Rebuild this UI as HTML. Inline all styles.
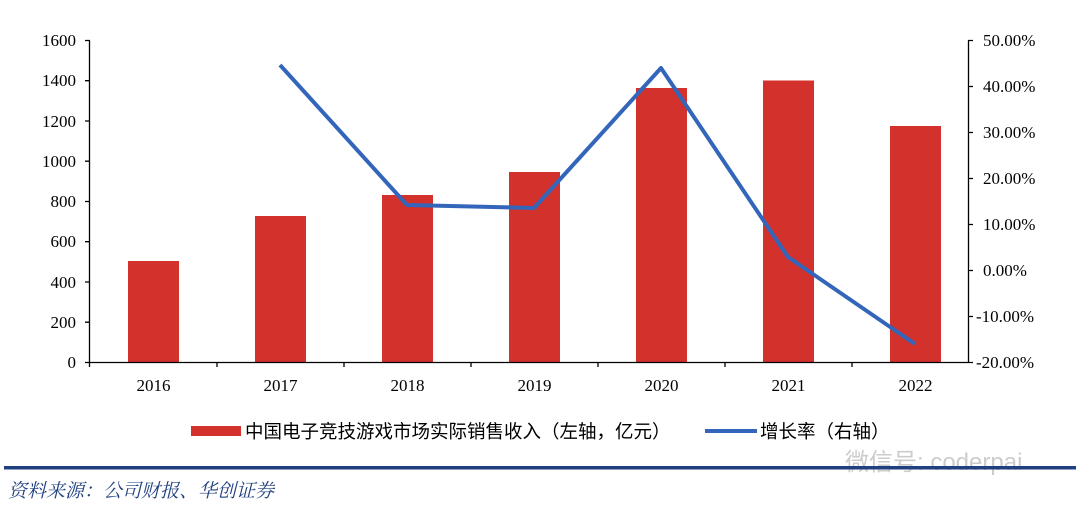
<!DOCTYPE html>
<html><head><meta charset="utf-8"><style>
body{margin:0;background:#fff;width:1080px;height:506px;overflow:hidden}
svg text{font-family:"Liberation Serif","Noto Serif CJK SC",serif;font-size:17px;fill:#000}
.cn{font-family:"Liberation Sans","Noto Sans CJK SC",sans-serif;font-size:18.5px}
</style></head><body>
<svg width="1080" height="506" xmlns="http://www.w3.org/2000/svg">
<g fill="#d3312c">
<rect x="128" y="261" width="51" height="101.5"/>
<rect x="255" y="216" width="51" height="146.5"/>
<rect x="382" y="195" width="51" height="167.5"/>
<rect x="509" y="172" width="51" height="190.5"/>
<rect x="636" y="88" width="51" height="274.5"/>
<rect x="763" y="80.5" width="51" height="282"/>
<rect x="890" y="126" width="51" height="236.5"/>
</g>
<g stroke="#000" stroke-width="1.3" fill="none">
<line x1="89.5" y1="40.5" x2="89.5" y2="367"/>
<line x1="89.5" y1="362.5" x2="968" y2="362.5"/>
<line x1="968.5" y1="40.5" x2="968.5" y2="363"/>
<path d="M85 40.5h5M85 80.7h5M85 121h5M85 161.2h5M85 201.5h5M85 241.7h5M85 282h5M85 322.2h5M85 362.5h5"/>
<path d="M968 40.5h5M968 86.5h5M968 132.5h5M968 178.5h5M968 224.5h5M968 270.5h5M968 316.5h5M968 362.5h5"/>
<path d="M217 362v5M344 362v5M471 362v5M598 362v5M725 362v5M852 362v5"/>
</g>
<g text-anchor="end">
<text x="76" y="46">1600</text><text x="76" y="86">1400</text><text x="76" y="127">1200</text><text x="76" y="167">1000</text><text x="76" y="207">800</text><text x="76" y="247">600</text><text x="76" y="288">400</text><text x="76" y="328">200</text><text x="76" y="368">0</text>
</g>
<g>
<text x="983" y="46">50.00%</text><text x="983" y="92">40.00%</text><text x="983" y="138">30.00%</text><text x="983" y="184">20.00%</text><text x="983" y="230">10.00%</text><text x="983" y="276">0.00%</text><text x="976" y="322">-10.00%</text><text x="976" y="368">-20.00%</text>
</g>
<g text-anchor="middle">
<text x="153.5" y="391">2016</text><text x="280.5" y="391">2017</text><text x="407.5" y="391">2018</text><text x="534.5" y="391">2019</text><text x="661.5" y="391">2020</text><text x="788.5" y="391">2021</text><text x="915.5" y="391">2022</text>
</g>
<polyline points="280,65 407,205 534,208 661,68 788,257 915,344" fill="none" stroke="#3366bb" stroke-width="4" stroke-linejoin="round"/>
<rect x="191" y="426" width="50" height="10" fill="#d3312c"/>
<text class="cn" x="245" y="438">中国电子竞技游戏市场实际销售收入（左轴，亿元）</text>
<line x1="705" y1="431" x2="757" y2="431" stroke="#3366bb" stroke-width="4"/>
<text class="cn" x="760" y="438">增长率（右轴）</text>
<text x="845" y="470" style="font-family:'Liberation Sans','Noto Sans CJK SC',sans-serif;font-size:24px;fill:#ccc">微信号: coderpai</text>
<rect x="4" y="466" width="1072" height="3.5" fill="#1f3f7f"/>
<text x="8" y="497" style="font-family:'Liberation Serif','Noto Serif CJK SC',serif;font-size:19px;font-style:italic;fill:#1f3f7f">资料来源：公司财报、华创证券</text>
</svg>
</body></html>
